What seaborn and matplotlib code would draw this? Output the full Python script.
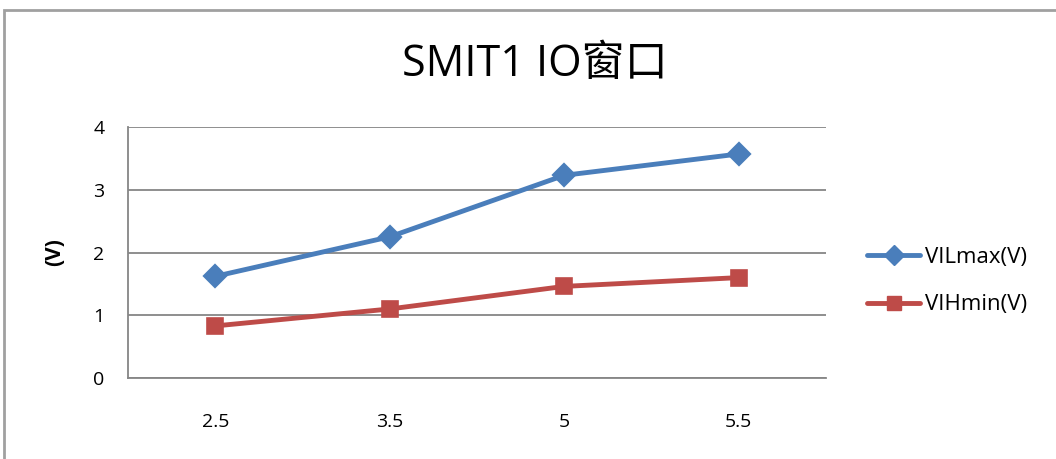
import matplotlib
matplotlib.use("Agg")
import matplotlib.pyplot as plt
from matplotlib.patches import Rectangle
import pandas as pd
import seaborn as sns

# data
voltages = ["2.5", "3.5", "5", "5.5"]
vil_max = [1.62, 2.25, 3.23, 3.57]
vih_min = [0.83, 1.10, 1.46, 1.60]
series_names = ["VILmax(V)", "VIHmin(V)"]

sns.set_theme(style="white")
plt.rcParams["font.family"] = ["Open Sans", "Noto Sans CJK SC", "DejaVu Sans"]
plt.rcParams["text.color"] = "black"
plt.rcParams["axes.labelcolor"] = "black"
plt.rcParams["xtick.color"] = "black"
plt.rcParams["ytick.color"] = "black"

BLUE = "#4A7EBB"
RED = "#BE4B48"
GRID = "#868686"

df = pd.DataFrame({
    "voltage": voltages * 2,
    "value": vil_max + vih_min,
    "series": [series_names[0]] * len(voltages) + [series_names[1]] * len(voltages),
})

fig = plt.figure(figsize=(10.56, 4.59), dpi=100)
ax = fig.add_axes([128 / 1056, 81 / 459, 698 / 1056, 251 / 459])

sns.pointplot(data=df, x="voltage", y="value", hue="series",
              palette=[BLUE, RED], markers=["D", "s"], linestyles=["-", "-"],
              ax=ax, legend=False, markersize=10, linewidth=3.5)

ax.set_xlim(-0.5, 3.5)
ax.set_ylim(0, 4)
ax.set_yticks([0, 1, 2, 3, 4])
ax.yaxis.grid(True, color=GRID, linewidth=1.3)
ax.set_axisbelow(True)
for side in ["top", "right"]:
    ax.spines[side].set_visible(False)
for side in ["left", "bottom"]:
    ax.spines[side].set_color(GRID)
    ax.spines[side].set_linewidth(1.3)
ax.tick_params(axis="y", length=3, color=GRID, labelcolor="black",
               labelsize=14, pad=14)
ax.tick_params(axis="x", length=0, labelcolor="black", labelsize=14, pad=25)
ax.set_xlabel("")
ax.set_ylabel("(V)", fontsize=15, fontweight="bold", labelpad=20)

handles = [
    plt.Line2D([], [], color=BLUE, marker="D", markersize=10, linewidth=3.5),
    plt.Line2D([], [], color=RED, marker="s", markersize=10, linewidth=3.5),
]
fig.legend(handles, series_names, loc="center left",
           bbox_to_anchor=(847 / 1056, 1 - 281 / 459), frameon=False,
           fontsize=16, handlelength=2.4, labelspacing=1.2, handletextpad=0.2)

fig.text(535 / 1056, 1 - 65 / 459, "SMIT1 IO窗口", ha="center", va="center",
         fontsize=31)

fig.patches.append(Rectangle((4 / 1056, -0.1), 1.2, 1 - 10 / 459 + 0.1,
                             transform=fig.transFigure, fill=False,
                             edgecolor="#A0A0A0", linewidth=2))

fig.savefig("out.png", dpi=100)
